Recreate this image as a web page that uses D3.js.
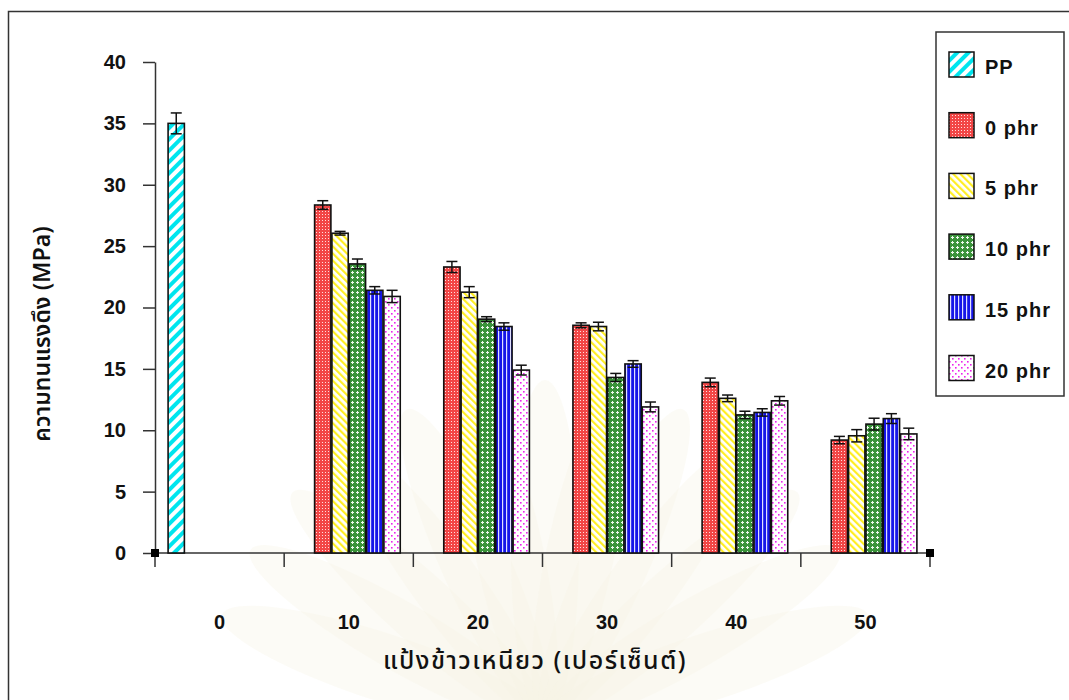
<!DOCTYPE html>
<html><head><meta charset="utf-8">
<script src="https://cdn.jsdelivr.net/npm/d3@7"></script>
<style>
html,body{margin:0;padding:0;background:#fff;}
svg{display:block;}
.num{font-family:"Liberation Sans",Arial,sans-serif;font-weight:bold;}
.thai{font-family:"Noto Sans Thai","Noto Sans Thai UI","Loma","Garuda","Tlwg Typo","Norasi","Noto Sans",sans-serif;}
</style></head>
<body>
<svg id="chart" width="1069" height="700"></svg>
<script>
// ---- data ----
const categories = ["0", "10", "20", "30", "40", "50"];
const seriesNames = ["PP", "0 phr", "5 phr", "10 phr", "15 phr", "20 phr"];
const ppValues   = [35.0, null, null, null, null, null];
const ppErr      = [0.85, null, null, null, null, null];
const phr0Values = [null, 28.35, 23.3, 18.55, 13.9, 9.2];
const phr0Err    = [null, 0.35, 0.45, 0.2, 0.35, 0.3];
const phr5Values = [null, 26.05, 21.25, 18.45, 12.6, 9.55];
const phr5Err    = [null, 0.15, 0.45, 0.35, 0.27, 0.5];
const phr10Values= [null, 23.55, 19.05, 14.3, 11.25, 10.5];
const phr10Err   = [null, 0.4, 0.2, 0.33, 0.3, 0.48];
const phr15Values= [null, 21.4, 18.45, 15.4, 11.45, 10.95];
const phr15Err   = [null, 0.3, 0.3, 0.27, 0.3, 0.4];
const phr20Values= [null, 20.9, 14.9, 11.9, 12.4, 9.7];
const phr20Err   = [null, 0.5, 0.4, 0.4, 0.35, 0.47];
const yTicks = [0, 5, 10, 15, 20, 25, 30, 35, 40];
const yTitle = "ความทนแรงดึง (MPa)";
const xTitle = "แป้งข้าวเหนียว (เปอร์เซ็นต์)";

const seriesValues = [ppValues, phr0Values, phr5Values, phr10Values, phr15Values, phr20Values];
const seriesErr = [ppErr, phr0Err, phr5Err, phr10Err, phr15Err, phr20Err];

const svg = d3.select("#chart");
const defs = svg.append("defs");

// ---- patterns ----
function pat(id, w, h, bg, draw, transform) {
  const p = defs.append("pattern").attr("id", id).attr("patternUnits", "userSpaceOnUse")
    .attr("width", w).attr("height", h);
  if (transform) p.attr("patternTransform", transform);
  p.append("rect").attr("width", w).attr("height", h).attr("fill", bg);
  draw(p);
}
pat("pPP", 8, 8, "#fff", p => p.append("rect").attr("width", 4).attr("height", 8).attr("fill", "#00e5ee"), "rotate(45)");
pat("p0", 3, 3, "#f24646", p => p.append("rect").attr("x", 1).attr("y", 1).attr("width", 1).attr("height", 1).attr("fill", "#ffdede"));
pat("p5", 5, 5, "#fff", p => p.append("rect").attr("width", 2.2).attr("height", 5).attr("fill", "#ffee22"), "rotate(-45)");
pat("p10", 5, 5, "#3a933a", p => {
  p.append("rect").attr("x", 2).attr("y", 1).attr("width", 1).attr("height", 3).attr("fill", "#eef8ee");
  p.append("rect").attr("x", 1).attr("y", 2).attr("width", 3).attr("height", 1).attr("fill", "#eef8ee");
});
pat("p15", 4, 4, "#1515e8", p => p.append("rect").attr("x", 2).attr("width", 1.2).attr("height", 4).attr("fill", "#e0e0ff"));
pat("p20", 6, 6, "#fff", p => {
  p.append("rect").attr("x", 1).attr("y", 1).attr("width", 1.6).attr("height", 1.6).attr("fill", "#ee22ee");
  p.append("rect").attr("x", 4).attr("y", 4).attr("width", 1.6).attr("height", 1.6).attr("fill", "#ee22ee");
});
const fills = ["url(#pPP)", "url(#p0)", "url(#p5)", "url(#p10)", "url(#p15)", "url(#p20)"];

// ---- faint watermark ----
const wm = svg.append("g").attr("transform", "translate(545,720)");
d3.range(-72, 73, 12).forEach(a => {
  wm.append("ellipse").attr("cx", 0).attr("cy", -170).attr("rx", 34).attr("ry", 170)
    .attr("fill", "#f7f3e4").attr("opacity", 0.35)
    .attr("transform", `rotate(${a})`);
});

// ---- frame ----
svg.append("path").attr("d", "M8.5,700 V11.5 H1069").attr("fill", "none").attr("stroke", "#333").attr("stroke-width", 1.5);

// ---- scales ----
const x0 = d3.scaleBand().domain(categories).range([155, 930]).padding(0);
const x1 = d3.scaleBand().domain(seriesNames).range([0, x0.bandwidth()]).paddingOuter(0.755).paddingInner(0.06);
const y = d3.scaleLinear().domain([0, 40]).range([553, 62]);

// ---- y axis ----
const yAxis = svg.append("g").attr("transform", "translate(155,0)")
  .call(d3.axisLeft(y).tickValues(yTicks).tickSize(12).tickSizeOuter(0).tickPadding(17));
yAxis.select(".domain").attr("stroke", "#333").attr("stroke-width", 1.5);
yAxis.selectAll(".tick line").attr("stroke", "#333").attr("stroke-width", 1.5);
yAxis.selectAll(".tick text").attr("class", "num").attr("font-size", 20).attr("fill", "#111");

// ---- x axis ----
const xg = svg.append("g").attr("transform", "translate(0,553)");
xg.append("line").attr("x1", 155).attr("x2", 930).attr("stroke", "#333").attr("stroke-width", 1.5);
const bounds = categories.map(c => x0(c)).concat([x0(categories[categories.length - 1]) + x0.bandwidth()]);
xg.selectAll("line.tk").data(bounds).join("line").attr("class", "tk")
  .attr("x1", d => d).attr("x2", d => d).attr("y1", 0).attr("y2", 14)
  .attr("stroke", "#333").attr("stroke-width", 1.5);
xg.selectAll("text").data(categories).join("text")
  .attr("class", "num").attr("font-size", 20).attr("fill", "#111")
  .attr("text-anchor", "middle").attr("x", d => x0(d) + x0.bandwidth() / 2).attr("y", 76)
  .text(d => d);

// ---- bars ----
const barData = [];
seriesNames.forEach((s, si) => {
  categories.forEach((c, ci) => {
    const v = seriesValues[si][ci];
    if (v != null) barData.push({ s, si, c, v, e: seriesErr[si][ci] });
  });
});
const bars = svg.append("g");
bars.selectAll("rect").data(barData).join("rect")
  .attr("x", d => x0(d.c) + x1(d.s))
  .attr("y", d => y(d.v))
  .attr("width", x1.bandwidth())
  .attr("height", d => y(0) - y(d.v))
  .attr("fill", d => fills[d.si])
  .attr("stroke", "#111").attr("stroke-width", 1.6);

// ---- error bars ----
const eb = svg.append("g").attr("stroke", "#111").attr("stroke-width", 1.5);
barData.forEach(d => {
  const cx = x0(d.c) + x1(d.s) + x1.bandwidth() / 2;
  eb.append("line").attr("x1", cx).attr("x2", cx).attr("y1", y(d.v + d.e)).attr("y2", y(d.v - d.e));
  [d.v + d.e, d.v - d.e].forEach(t => eb.append("line").attr("x1", cx - 5.5).attr("x2", cx + 5.5).attr("y1", y(t)).attr("y2", y(t)));
});

// ---- axis end markers ----
[[155, 553], [930, 553]].forEach(([mx, my]) => {
  svg.append("rect").attr("x", mx - 4).attr("y", my - 4).attr("width", 8).attr("height", 8).attr("fill", "#000");
});

// ---- axis titles ----
svg.append("text").attr("class", "thai").attr("font-size", 23).attr("font-weight", 600).attr("fill", "#111")
  .attr("text-anchor", "middle").attr("transform", "translate(50,334) rotate(-90)").text(yTitle);
svg.append("text").attr("class", "thai").attr("font-size", 25).attr("font-weight", 500).attr("fill", "#111")
  .attr("letter-spacing", 1.5)
  .attr("text-anchor", "middle").attr("x", 535).attr("y", 669).text(xTitle);

// ---- legend ----
const lg = svg.append("g");
lg.append("rect").attr("x", 936).attr("y", 32).attr("width", 128).attr("height", 364)
  .attr("fill", "#fff").attr("stroke", "#333").attr("stroke-width", 1.5);
seriesNames.forEach((s, i) => {
  const cy = 64 + i * 60.7;
  lg.append("rect").attr("x", 949).attr("y", cy - 12).attr("width", 25).attr("height", 25)
    .attr("fill", fills[i]).attr("stroke", "#111").attr("stroke-width", 1.5);
  lg.append("text").attr("class", "num").attr("font-size", 20).attr("fill", "#111")
    .attr("letter-spacing", 1).attr("x", 985).attr("y", cy + 10).text(s);
});
</script>
</body></html>
